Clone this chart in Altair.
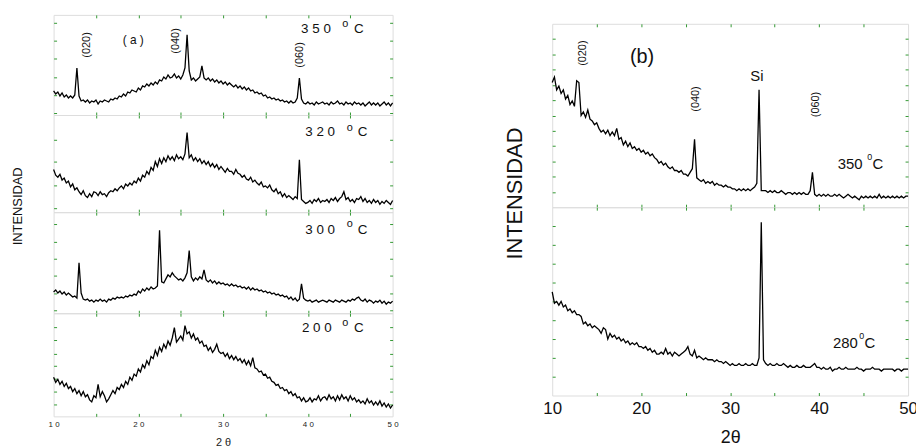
import altair as alt
import pandas as pd

GREEN = "#339933"
FONT = "Liberation Sans"

# 2-theta sampling grid (degrees), 0.25 deg step from 10 to 50
two_theta = [round(10 + 0.25 * i, 2) for i in range(161)]

# (a) patterns, relative intensity within each strip
a_350 = [0.24, 0.21, 0.23, 0.19, 0.22, 0.18, 0.20, 0.17,
         0.19, 0.17, 0.20, 0.47, 0.19, 0.14, 0.15, 0.13,
         0.15, 0.12, 0.14, 0.13, 0.15, 0.11, 0.14, 0.13,
         0.15, 0.14, 0.13, 0.16, 0.15, 0.17, 0.16, 0.19,
         0.18, 0.21, 0.19, 0.23, 0.22, 0.25, 0.24, 0.23,
         0.27, 0.25, 0.29, 0.28, 0.31, 0.29, 0.32, 0.30,
         0.33, 0.31, 0.35, 0.34, 0.38, 0.36, 0.40, 0.37,
         0.38, 0.41, 0.37, 0.39, 0.36, 0.40, 0.47, 0.80,
         0.44, 0.35, 0.37, 0.34, 0.36, 0.38, 0.49, 0.37,
         0.35, 0.37, 0.34, 0.36, 0.33, 0.35, 0.32, 0.34,
         0.31, 0.33, 0.30, 0.32, 0.30, 0.28, 0.30, 0.27,
         0.29, 0.26, 0.28, 0.25, 0.27, 0.24, 0.25, 0.22,
         0.23, 0.21, 0.22, 0.19, 0.20, 0.17, 0.18, 0.16,
         0.17, 0.15, 0.16, 0.14, 0.15, 0.13, 0.14, 0.12,
         0.14, 0.12, 0.13, 0.17, 0.37, 0.16, 0.12, 0.11,
         0.13, 0.11, 0.12, 0.10, 0.13, 0.11, 0.12, 0.13,
         0.11, 0.12, 0.10, 0.13, 0.11, 0.12, 0.14, 0.11,
         0.12, 0.10, 0.13, 0.11, 0.12, 0.10, 0.13, 0.11,
         0.12, 0.10, 0.12, 0.09, 0.11, 0.13, 0.10, 0.12,
         0.10, 0.12, 0.09, 0.11, 0.13, 0.10, 0.12, 0.09,
         0.12]
a_320 = [0.44, 0.38, 0.36, 0.39, 0.33, 0.35, 0.30, 0.32,
         0.26, 0.29, 0.23, 0.25, 0.21, 0.18, 0.22, 0.17,
         0.15, 0.19, 0.16, 0.21, 0.20, 0.17, 0.21, 0.18,
         0.19, 0.16, 0.20, 0.22, 0.21, 0.24, 0.22, 0.25,
         0.27, 0.24, 0.29, 0.27, 0.30, 0.28, 0.32, 0.30,
         0.35, 0.32, 0.38, 0.36, 0.42, 0.39, 0.46, 0.43,
         0.52, 0.47, 0.55, 0.50, 0.56, 0.52, 0.58, 0.54,
         0.57, 0.53, 0.59, 0.55, 0.57, 0.54, 0.60, 0.82,
         0.56, 0.59, 0.53, 0.56, 0.52, 0.55, 0.50, 0.53,
         0.49, 0.52, 0.47, 0.50, 0.46, 0.49, 0.44, 0.47,
         0.44, 0.41, 0.45, 0.42, 0.42, 0.39, 0.44, 0.40,
         0.39, 0.36, 0.38, 0.34, 0.33, 0.36, 0.31, 0.33,
         0.30, 0.28, 0.31, 0.26, 0.27, 0.25, 0.28, 0.23,
         0.21, 0.24, 0.19, 0.21, 0.16, 0.19, 0.15, 0.17,
         0.15, 0.13, 0.16, 0.14, 0.54, 0.13, 0.11, 0.09,
         0.10, 0.12, 0.09, 0.13, 0.11, 0.14, 0.10, 0.12,
         0.11, 0.13, 0.10, 0.14, 0.12, 0.15, 0.11, 0.14,
         0.16, 0.21, 0.13, 0.15, 0.11, 0.13, 0.10, 0.14,
         0.13, 0.16, 0.11, 0.14, 0.10, 0.12, 0.09, 0.13,
         0.10, 0.12, 0.08, 0.11, 0.09, 0.12, 0.10, 0.08,
         0.12]
a_300 = [0.21, 0.23, 0.20, 0.22, 0.19, 0.21, 0.18, 0.20,
         0.18, 0.16, 0.17, 0.15, 0.50, 0.20, 0.14, 0.13,
         0.14, 0.12, 0.13, 0.11, 0.13, 0.12, 0.14, 0.12,
         0.13, 0.11, 0.14, 0.13, 0.15, 0.14, 0.16, 0.15,
         0.16, 0.15, 0.17, 0.16, 0.18, 0.17, 0.19, 0.18,
         0.22, 0.20, 0.24, 0.22, 0.25, 0.23, 0.26, 0.24,
         0.25, 0.27, 0.82, 0.31, 0.30, 0.34, 0.38, 0.36,
         0.40, 0.37, 0.35, 0.33, 0.34, 0.32, 0.35, 0.40,
         0.62, 0.36, 0.32, 0.35, 0.33, 0.36, 0.34, 0.43,
         0.33, 0.31, 0.33, 0.30, 0.32, 0.29, 0.31, 0.29,
         0.30, 0.28, 0.29, 0.27, 0.29, 0.27, 0.28, 0.26,
         0.27, 0.25, 0.26, 0.24, 0.26, 0.23, 0.25, 0.23,
         0.24, 0.22, 0.23, 0.21, 0.22, 0.20, 0.21, 0.19,
         0.20, 0.18, 0.19, 0.17, 0.18, 0.16, 0.17, 0.14,
         0.16, 0.13, 0.15, 0.12, 0.14, 0.29, 0.15, 0.13,
         0.12, 0.13, 0.11, 0.12, 0.13, 0.11, 0.12, 0.13,
         0.12, 0.11, 0.13, 0.12, 0.11, 0.13, 0.12, 0.11,
         0.13, 0.12, 0.11, 0.13, 0.12, 0.14, 0.13, 0.15,
         0.16, 0.13, 0.12, 0.14, 0.11, 0.13, 0.12, 0.10,
         0.12, 0.11, 0.13, 0.10, 0.12, 0.09, 0.11, 0.10,
         0.12]
a_200 = [0.38, 0.33, 0.36, 0.31, 0.34, 0.29, 0.32, 0.27,
         0.29, 0.24, 0.27, 0.22, 0.25, 0.20, 0.24, 0.19,
         0.21, 0.16, 0.14, 0.20, 0.18, 0.31, 0.19, 0.24,
         0.20, 0.14, 0.17, 0.21, 0.25, 0.22, 0.28, 0.26,
         0.31, 0.28, 0.34, 0.31, 0.38, 0.35, 0.41, 0.39,
         0.46, 0.43, 0.50, 0.47, 0.54, 0.50, 0.58, 0.56,
         0.64, 0.59, 0.67, 0.63, 0.70, 0.66, 0.73, 0.69,
         0.76, 0.86, 0.72, 0.75, 0.78, 0.74, 0.88, 0.80,
         0.82, 0.76, 0.80, 0.74, 0.76, 0.71, 0.73, 0.68,
         0.69, 0.64, 0.67, 0.62, 0.65, 0.70, 0.63, 0.61,
         0.62, 0.58, 0.61, 0.56, 0.59, 0.55, 0.58, 0.54,
         0.56, 0.52, 0.55, 0.50, 0.54, 0.49, 0.57, 0.47,
         0.46, 0.43, 0.44, 0.40, 0.41, 0.37, 0.38, 0.34,
         0.33, 0.30, 0.31, 0.27, 0.28, 0.25, 0.26, 0.22,
         0.24, 0.20, 0.22, 0.18, 0.19, 0.15, 0.18, 0.14,
         0.15, 0.18, 0.14, 0.17, 0.16, 0.20, 0.15, 0.18,
         0.19, 0.16, 0.21, 0.17, 0.19, 0.15, 0.20, 0.16,
         0.21, 0.17, 0.19, 0.15, 0.20, 0.16, 0.18, 0.14,
         0.16, 0.13, 0.15, 0.12, 0.17, 0.13, 0.15, 0.11,
         0.14, 0.11, 0.15, 0.10, 0.13, 0.09, 0.12, 0.08,
         0.11]

# (b) patterns
b_350 = [0.68, 0.71, 0.64, 0.66, 0.62, 0.64, 0.59, 0.61,
         0.56, 0.58, 0.55, 0.69, 0.68, 0.50, 0.52, 0.49,
         0.53, 0.48, 0.47, 0.45, 0.46, 0.43, 0.41, 0.42,
         0.40, 0.42, 0.39, 0.41, 0.39, 0.43, 0.37, 0.38,
         0.34, 0.36, 0.33, 0.35, 0.32, 0.33, 0.31, 0.32,
         0.30, 0.31, 0.29, 0.30, 0.28, 0.29, 0.27, 0.26,
         0.24, 0.25, 0.23, 0.24, 0.22, 0.21, 0.22, 0.20,
         0.20, 0.19, 0.20, 0.18, 0.18, 0.17, 0.19, 0.21,
         0.37, 0.16, 0.15, 0.14, 0.15, 0.13, 0.14, 0.13,
         0.14, 0.12, 0.13, 0.12, 0.12, 0.11, 0.12, 0.11,
         0.11, 0.10, 0.10, 0.09, 0.10, 0.09, 0.10, 0.09,
         0.10, 0.09, 0.10, 0.11, 0.13, 0.64, 0.09, 0.09,
         0.09, 0.08, 0.09, 0.08, 0.09, 0.08, 0.08, 0.09,
         0.08, 0.07, 0.08, 0.08, 0.07, 0.08, 0.07, 0.08,
         0.07, 0.08, 0.07, 0.07, 0.09, 0.19, 0.07, 0.06,
         0.07, 0.06, 0.07, 0.06, 0.07, 0.06, 0.06, 0.07,
         0.06, 0.07, 0.06, 0.05, 0.06, 0.07, 0.06, 0.05,
         0.06, 0.05, 0.04, 0.06, 0.05, 0.06, 0.05, 0.06,
         0.05, 0.06, 0.05, 0.07, 0.05, 0.06, 0.05, 0.06,
         0.05, 0.06, 0.05, 0.06, 0.05, 0.06, 0.05, 0.06,
         0.06]
b_280 = [0.55, 0.49, 0.50, 0.48, 0.50, 0.47, 0.48, 0.45,
         0.46, 0.44, 0.45, 0.43, 0.43, 0.42, 0.38, 0.39,
         0.37, 0.38, 0.36, 0.37, 0.36, 0.35, 0.33, 0.36,
         0.35, 0.30, 0.33, 0.31, 0.32, 0.30, 0.31, 0.29,
         0.30, 0.28, 0.29, 0.27, 0.28, 0.27, 0.28, 0.26,
         0.26, 0.25, 0.26, 0.24, 0.25, 0.23, 0.24, 0.22,
         0.22, 0.23, 0.22, 0.25, 0.22, 0.23, 0.21, 0.23,
         0.22, 0.21, 0.22, 0.23, 0.24, 0.26, 0.22, 0.21,
         0.24, 0.20, 0.21, 0.20, 0.19, 0.20, 0.19, 0.19,
         0.19, 0.18, 0.19, 0.18, 0.18, 0.17, 0.18, 0.17,
         0.16, 0.17, 0.16, 0.16, 0.17, 0.16, 0.16, 0.17,
         0.16, 0.16, 0.17, 0.16, 0.16, 0.20, 0.92, 0.19,
         0.17, 0.16, 0.17, 0.16, 0.16, 0.17, 0.16, 0.16,
         0.17, 0.16, 0.15, 0.16, 0.15, 0.15, 0.16, 0.15,
         0.15, 0.16, 0.15, 0.15, 0.15, 0.16, 0.17, 0.15,
         0.15, 0.14, 0.15, 0.14, 0.14, 0.15, 0.13, 0.14,
         0.14, 0.15, 0.14, 0.14, 0.15, 0.14, 0.14, 0.14,
         0.14, 0.15, 0.14, 0.14, 0.13, 0.14, 0.14, 0.14,
         0.15, 0.14, 0.14, 0.14, 0.13, 0.14, 0.14, 0.14,
         0.14, 0.14, 0.13, 0.14, 0.14, 0.13, 0.14, 0.14,
         0.14]

# tick values
x_ticks = [15, 20, 25, 30, 35, 40, 45]
x_labels = [10, 20, 30, 40, 50]
yt_a350 = [0.02, 0.20, 0.38, 0.56, 0.74, 0.92]
yt_a320 = [0.04, 0.28, 0.52, 0.75]
yt_a300 = [0.03, 0.20, 0.37, 0.54, 0.71, 0.88]
yt_a200 = [0.12, 0.245, 0.37, 0.49, 0.61, 0.74, 0.865]
yt_b350 = [0.083, 0.167, 0.25, 0.333, 0.417, 0.5, 0.583, 0.667, 0.75, 0.833, 0.917]
yt_b280 = [0.1, 0.2, 0.3, 0.4, 0.5, 0.6, 0.7, 0.8, 0.9]

# annotations: text, x (2theta), y (relative), size, angle, align, baseline
ann_a350 = [("(020)", 14.0, 0.70, 11, 270, "center", "middle"),
            ("( a )", 19.4, 0.75, 12, 0, "center", "middle"),
            ("(040)", 24.5, 0.74, 11, 270, "center", "middle"),
            ("(060)", 39.1, 0.60, 11, 270, "center", "middle"),
            ("3 5 0", 39.2, 0.82, 13.5, 0, "left", "alphabetic"),
            ("o", 44.07, 0.88, 11, 0, "left", "alphabetic"),
            ("C", 45.44, 0.82, 13.5, 0, "left", "alphabetic")]
ann_a320 = [("3 2 0", 39.7, 0.78, 13.5, 0, "left", "alphabetic"),
            ("o", 44.6, 0.84, 11, 0, "left", "alphabetic"),
            ("C", 45.9, 0.78, 13.5, 0, "left", "alphabetic"),
            ("INTENSIDAD", 5.79, 0.06, 13, 270, "center", "middle")]
ann_a300 = [("3 0 0", 39.7, 0.78, 13.5, 0, "left", "alphabetic"),
            ("o", 44.6, 0.85, 11, 0, "left", "alphabetic"),
            ("C", 45.9, 0.78, 13.5, 0, "left", "alphabetic")]
ann_a200 = [("2 0 0", 39.3, 0.82, 13.5, 0, "left", "alphabetic"),
            ("o", 44.07, 0.88, 11, 0, "left", "alphabetic"),
            ("C", 45.44, 0.82, 13.5, 0, "left", "alphabetic")]
ann_b350 = [("(020)", 13.5, 0.84, 11, 270, "center", "middle"),
            ("(b)", 20.1, 0.82, 20, 0, "center", "middle"),
            ("Si", 33.0, 0.715, 15, 0, "center", "middle"),
            ("(040)", 26.15, 0.59, 11, 270, "center", "middle"),
            ("(060)", 39.6, 0.56, 11, 270, "center", "middle"),
            ("350", 42.1, 0.21, 15, 0, "left", "alphabetic"),
            ("0", 45.4, 0.256, 9, 0, "left", "alphabetic"),
            ("C", 46.0, 0.21, 15, 0, "left", "alphabetic"),
            ("INTENSIDAD", 5.77, 0.074, 22, 270, "center", "middle")]
ann_b280 = [("280", 41.56, 0.25, 15, 0, "left", "alphabetic"),
            ("0", 44.5, 0.30, 9, 0, "left", "alphabetic"),
            ("C", 45.1, 0.25, 15, 0, "left", "alphabetic")]


def strip(values, w, h, yticks, ann, bottom_axis=None, tick_len=3):
    df = pd.DataFrame({"t": two_theta, "v": values})
    xs = alt.Scale(domain=[10, 50], nice=False, zero=False)
    ys = alt.Scale(domain=[0, 1], nice=False, zero=False)
    common = dict(labels=False, domain=False, grid=False, tickColor=GREEN,
                  tickSize=tick_len, tickWidth=1, title=None)
    base = alt.Chart(df)
    line = base.mark_line(color="black", strokeWidth=1.3).encode(
        x=alt.X("t:Q", scale=xs, axis=bottom_axis),
        y=alt.Y("v:Q", scale=ys, axis=None),
    )
    g1 = base.mark_line(opacity=0).encode(
        x=alt.X("t:Q", scale=xs, axis=alt.Axis(orient="top", offset=-h, values=x_ticks, **common)),
        y=alt.Y("v:Q", scale=ys, axis=alt.Axis(orient="right", offset=-w, values=yticks, **common)),
    )
    g2 = base.mark_line(opacity=0).encode(
        x=alt.X("t:Q", scale=xs, axis=alt.Axis(orient="bottom", offset=-h, values=x_ticks, **common)),
        y=alt.Y("v:Q", scale=ys, axis=alt.Axis(orient="left", offset=-w, values=yticks, **common)),
    )
    layers = [line, g1, g2]
    for (txt, tx, ty, size, ang, al, bl) in ann:
        tdf = pd.DataFrame({"t": [tx], "v": [ty], "s": [txt]})
        layers.append(
            alt.Chart(tdf).mark_text(fontSize=size, angle=ang, align=al, baseline=bl,
                                     font=FONT, color="#111111").encode(
                x=alt.X("t:Q", scale=xs, axis=None),
                y=alt.Y("v:Q", scale=ys, axis=None),
                text="s:N",
            )
        )
    return alt.layer(*layers).properties(width=w, height=h)


axis_a = alt.Axis(values=x_labels, ticks=False, domain=False, grid=False, labelFlush=False,
                  labelFont=FONT, labelFontSize=8, labelColor="#222222", labelPadding=4,
                  labelExpr="slice(datum.label,0,1) + ' ' + slice(datum.label,1)",
                  title="2 θ", titleFont=FONT, titleFontSize=11, titleFontWeight="normal",
                  titleColor="#222222", titlePadding=8)
axis_b = alt.Axis(values=x_labels, ticks=False, domain=False, grid=False, labelFlush=False,
                  labelFont=FONT, labelFontSize=17, labelColor="#111111", labelPadding=5,
                  title="2θ", titleFont=FONT, titleFontSize=18, titleFontWeight="normal",
                  titleColor="#111111", titlePadding=12)

WA = 342
WB = 359
col_a = alt.vconcat(
    strip(a_350, WA, 101, yt_a350, ann_a350),
    strip(a_320, WA, 98, yt_a320, ann_a320),
    strip(a_300, WA, 102, yt_a300, ann_a300),
    strip(a_200, WA, 104, yt_a200, ann_a200, bottom_axis=axis_a),
    spacing=0, bounds="flush",
)

spacer = alt.Chart(pd.DataFrame({"t": [10], "v": [0]})).mark_point(opacity=0).encode(
    x=alt.X("t:Q", axis=None), y=alt.Y("v:Q", axis=None)
).properties(width=WB, height=9, view=alt.ViewBackground(strokeOpacity=0))

col_b = alt.vconcat(
    spacer,
    strip(b_350, WB, 185, yt_b350, ann_b350),
    strip(b_280, WB, 190, yt_b280, ann_b280, bottom_axis=axis_b, tick_len=3),
    spacing=0, bounds="flush",
)

chart = alt.hconcat(col_a, col_b, spacing=104).properties(
    padding={"left": 3, "top": 4, "right": -2, "bottom": 0}
).configure_view(stroke=GREEN, strokeWidth=1.5).configure(background="white")

chart.save("out.html", embed_options={"renderer": "svg", "actions": False})
